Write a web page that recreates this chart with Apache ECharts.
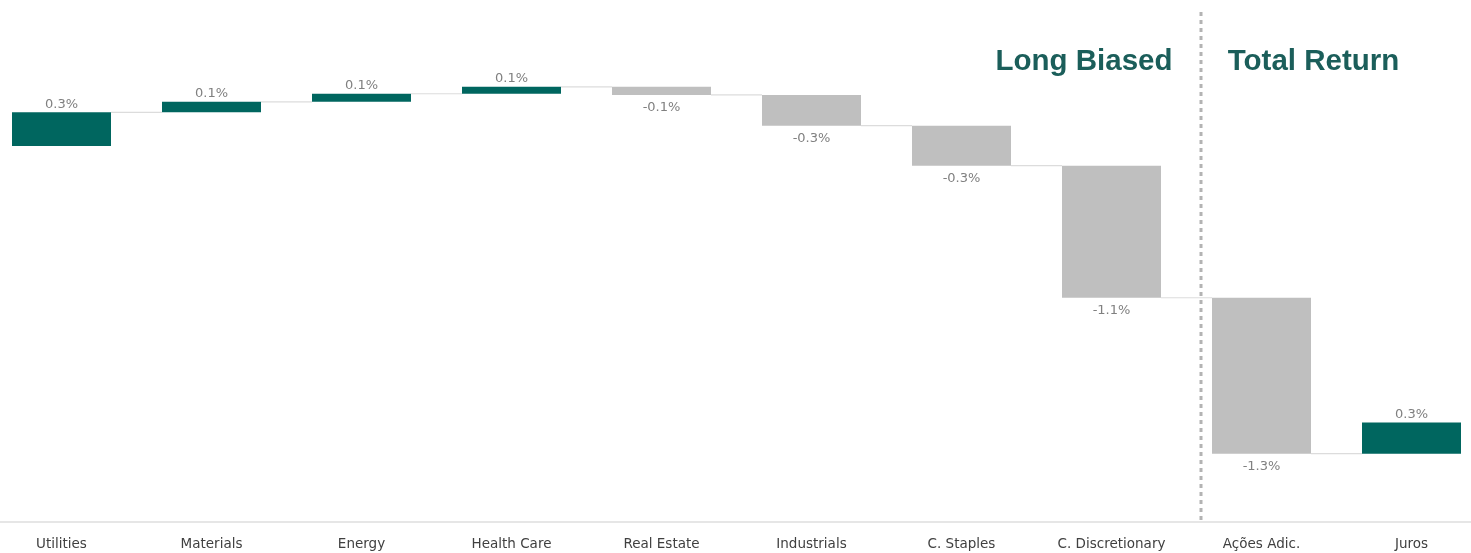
<!DOCTYPE html>
<html>
<head>
<meta charset="utf-8">
<script src="https://cdn.jsdelivr.net/npm/echarts@6/dist/echarts.min.js"></script>
<style>
html,body{margin:0;padding:0;background:#fff;}
#chart{width:1471px;height:553px;}
</style>
</head>
<body>
<div id="chart"></div>
<script>
// ---- data ----
const categories = ['Utilities','Materials','Energy','Health Care','Real Estate','Industrials','C. Staples','C. Discretionary','Ações Adic.','Juros'];
const contributions = [0.29, 0.09, 0.07, 0.06, -0.07, -0.265, -0.345, -1.14, -1.345, 0.27]; // % points
const groupTitles = ['Long Biased', 'Total Return'];

// ---- build waterfall ranges ----
const ranges = [];
let acc = 0;
contributions.forEach((v, i) => {
  const start = acc;
  acc = acc + v;
  ranges.push([i, start, acc, v]);
});

function fmt(v) {
  const r = Math.round(Math.abs(v) * 10 + 1e-9) / 10;
  return (v < 0 ? '-' : '') + r.toFixed(1) + '%';
}

const TEAL = '#00665f';
const GREY = '#bfbfbf';
const n = categories.length;

const chart = echarts.init(document.getElementById('chart'), null, {renderer: 'canvas'});
chart.setOption({
  animation: false,
  backgroundColor: '#ffffff',
  grid: {left: -13.5, top: 30, width: 1500, height: 491.5, containLabel: false, outerBoundsMode: 'none'},
  xAxis: {
    type: 'category',
    data: categories,
    axisTick: {show: false},
    axisLine: {show: true, onZero: false, lineStyle: {color: '#e6e6e6', width: 2}},
    axisLabel: {color: '#404040', fontSize: 13.5, fontFamily: 'DejaVu Sans', margin: 16, interval: 0},
    splitLine: {show: false}
  },
  yAxis: {
    type: 'value',
    min: -3.24,
    max: 1.0,
    show: false,
    splitLine: {show: false}
  },
  series: [{
    type: 'custom',
    data: ranges,
    encode: {x: 0, y: [1, 2]},
    renderItem: function (params, api) {
      const i = api.value(0);
      const start = api.value(1);
      const end = api.value(2);
      const v = api.value(3);
      const p0 = api.coord([i, start]);
      const p1 = api.coord([i, end]);
      const band = api.size([1, 0])[0];
      const bw = band * 0.66;
      const top = Math.min(p0[1], p1[1]);
      const h = Math.abs(p1[1] - p0[1]);
      const children = [];
      children.push({
        type: 'rect',
        shape: {x: p0[0] - bw / 2, y: top, width: bw, height: h},
        style: {fill: v >= 0 ? TEAL : GREY}
      });
      if (i < n - 1) {
        children.push({
          type: 'line',
          shape: {x1: p0[0] + bw / 2, y1: p1[1], x2: p0[0] + band - bw / 2, y2: p1[1]},
          style: {stroke: '#dcdcdc', lineWidth: 1.2}
        });
      }
      children.push({
        type: 'text',
        style: {
          text: fmt(v),
          x: p0[0],
          y: v >= 0 ? top - 8 : top + h + 12.5,
          align: 'center',
          verticalAlign: 'middle',
          fill: '#808080',
          fontSize: 13,
          fontFamily: 'DejaVu Sans'
        }
      });
      return {type: 'group', children: children};
    }
  }],
  graphic: [
    {
      type: 'line',
      shape: {x1: 1201, y1: 12, x2: 1201, y2: 520},
      style: {stroke: '#b3b3b3', lineWidth: 3, lineDash: [4, 4]}
    },
    {
      type: 'text',
      x: 1084, y: 62,
      style: {text: groupTitles[0], align: 'center', verticalAlign: 'middle', fill: '#1b5e5a', fontSize: 29.5, fontWeight: 'bold', fontFamily: 'Liberation Sans'}
    },
    {
      type: 'text',
      x: 1313.5, y: 62,
      style: {text: groupTitles[1], align: 'center', verticalAlign: 'middle', fill: '#1b5e5a', fontSize: 29.5, fontWeight: 'bold', fontFamily: 'Liberation Sans'}
    }
  ]
});
</script>
</body>
</html>
